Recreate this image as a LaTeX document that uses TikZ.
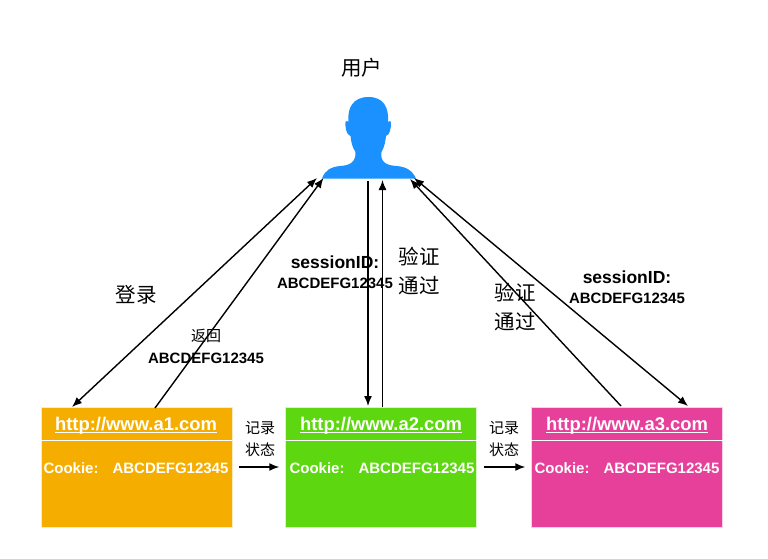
\documentclass[tikz,border=0pt]{standalone}
\usepackage{fontspec}
\setmainfont{Liberation Sans}
\newfontfamily\cjk{Noto Sans CJK SC}
\usepackage{tikz}
\usetikzlibrary{arrows.meta}
\definecolor{boxorange}{HTML}{F5AE00}
\definecolor{boxgreen}{HTML}{5DD70F}
\definecolor{boxpink}{HTML}{E6409A}
\definecolor{userblue}{HTML}{1A91FF}
\tikzset{
	sitebox/.style = {draw = white!75!#1, fill = #1, line width = .5pt, minimum width = 191pt, minimum height = 120pt, inner sep = 0pt},
	sitelink/.style = {anchor = base, text = white, font = \bfseries\fontsize{18.4}{18.4}\selectfont, inner sep = 0pt},
	sitecookie/.style = {text = white, font = \bfseries\fontsize{15}{15}\selectfont, inner sep = 0pt},
	wordlabel/.style = {font = \cjk\fontsize{20.5}{29}\selectfont, align = center, inner sep = 0pt},
	smalllabel/.style = {font = \cjk\fontsize{15}{22}\selectfont, align = center, inner sep = 0pt},
	idlabel/.style = {font = \bfseries\fontsize{15}{20}\selectfont, align = center, inner sep = 0pt},
	link/.style = {line width = 1.4pt, >={Latex[length = 10pt, width = 8pt]}}
}
\begin{document}
\begin{tikzpicture}[x = 1pt, y = -1pt]
	\useasboundingbox (0,0) rectangle (768,559);
	\fill[white] (0,0) rectangle (768,559);
	% user figure
	\fill[userblue] (322,178.5) .. controls (325,170) and (331,167) .. (340,166)
		.. controls (350,165.5) and (356,162) .. (355.5,152)
		.. controls (352,147) and (351,141) .. (350.5,136)
		.. controls (346,135) and (345,126) .. (345.5,122) .. controls (346,120) and (347,121) .. (348.5,122)
		.. controls (347,108) and (353,97) .. (368.5,97)
		.. controls (384,97) and (389,108) .. (388,122)
		.. controls (390,120) and (391,121) .. (391,123) .. controls (391,128) and (390,135) .. (386,136)
		.. controls (385.5,141) and (384.5,147) .. (381.5,152)
		.. controls (380,162) and (386,165.5) .. (397,166)
		.. controls (406,167) and (412,170) .. (416,178.5) -- cycle;
	\node[wordlabel] (usertext) at (361.5,68) {用户};
	\coordinate (userA) at (317,178);
	\coordinate (userB) at (323.5,178);
	\coordinate (userC) at (368,181);
	\coordinate (userD) at (382.5,180);
	\coordinate (userE) at (410,179);
	\coordinate (userF) at (414,178);
	% the three sites
	\node[sitebox = boxorange] (a1box) at (136.5,467) {};
	\node[sitebox = boxgreen] (a2box) at (381,467) {};
	\node[sitebox = boxpink] (a3box) at (627,467) {};
	\draw[white, line width = 1pt] (a1box.west |- 0,440) -- (a1box.east |- 0,440);
	\draw[white, line width = 1pt] (a2box.west |- 0,440) -- (a2box.east |- 0,440);
	\draw[white, line width = 1pt] (a3box.west |- 0,440) -- (a3box.east |- 0,440);
	\node[sitelink] (a1link) at (136,430.5) {\underline{\smash{http://www.a1.com}}};
	\node[sitelink] (a2link) at (381,430.5) {\underline{\smash{http://www.a2.com}}};
	\node[sitelink] (a3link) at (627,430.5) {\underline{\smash{http://www.a3.com}}};
	\node[sitecookie] (a1cookie) at (136,468) {Cookie:\hspace{14pt}ABCDEFG12345};
	\node[sitecookie] (a2cookie) at (382,468) {Cookie:\hspace{14pt}ABCDEFG12345};
	\node[sitecookie] (a3cookie) at (627,468) {Cookie:\hspace{14pt}ABCDEFG12345};
	\coordinate (a1in) at (72,407);
	\coordinate (a1out) at (155,408);
	\coordinate (a2in) at (368,406);
	\coordinate (a2out) at (382.5,407);
	\coordinate (a3out) at (621,406);
	\coordinate (a3in) at (688,406);
	% connectors
	\draw[link, <->] (a1in) -- (userA);
	\draw[link, ->] (a1out) -- (userB);
	\draw[link, ->] (userC) -- (a2in);
	\draw[link, ->] (a2out) -- (userD);
	\draw[link, ->] (a3out) -- (userE);
	\draw[link, <->] (a3in) -- (userF);
	\draw[link, ->] ([xshift = 7pt]a1box.east) -- ([xshift = -6pt]a2box.west);
	\draw[link, ->] ([xshift = 7pt]a2box.east) -- ([xshift = -6pt]a3box.west);
	% labels
	\node[wordlabel] (login) at (136,295) {登录};
	\node[smalllabel] (back) at (206,336) {返回};
	\node[idlabel] (backid) at (206,358) {ABCDEFG12345};
	\node[idlabel] (sessiona) at (335,272) {\fontsize{17.5}{20}\selectfont sessionID:\\ABCDEFG12345};
	\node[wordlabel] (passa) at (419,271) {验证\\通过};
	\node[wordlabel] (passb) at (515,307) {验证\\通过};
	\node[idlabel] (sessionb) at (627,287) {\fontsize{17.5}{20}\selectfont sessionID:\\ABCDEFG12345};
	\node[smalllabel] (recorda) at (260,439) {记录\\状态};
	\node[smalllabel] (recordb) at (504,439) {记录\\状态};
\end{tikzpicture}
\end{document}
